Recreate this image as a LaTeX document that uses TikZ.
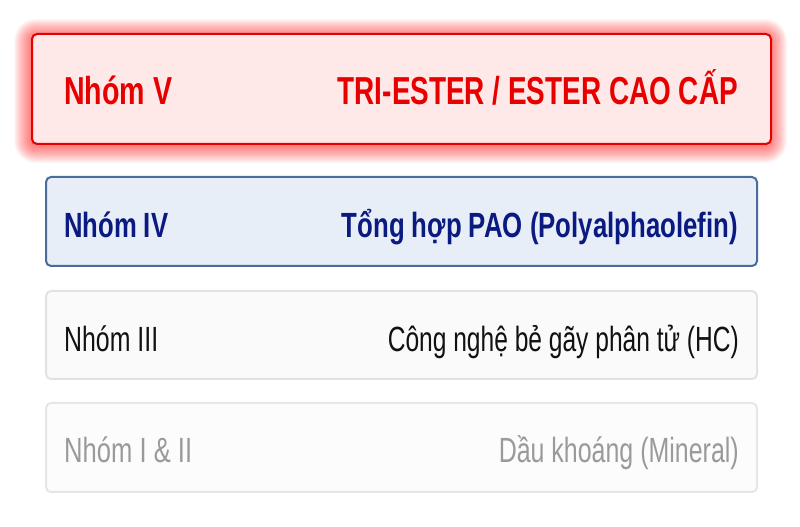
\documentclass[tikz,border=0pt]{standalone}
\usepackage{fontspec}
\usepackage{graphicx}
\setmainfont{Liberation Sans}
\definecolor{vred}{HTML}{E60000}
\definecolor{vfill}{HTML}{FFE8E8}
\definecolor{ivtext}{HTML}{0A1A80}
\definecolor{ivline}{HTML}{4A6C9B}
\definecolor{ivfill}{HTML}{E8EEF8}
\definecolor{iiitext}{HTML}{111111}
\definecolor{iiiline}{HTML}{E2E2E2}
\definecolor{iiifill}{HTML}{FAFAFA}
\definecolor{itext}{HTML}{9A9A9A}
\definecolor{iline}{HTML}{E6E6E6}
\definecolor{ifill}{HTML}{FCFCFC}
\newcommand\fitw[2]{\resizebox{#1}{\height}{#2}}
\tikzset{
  tierbox/.style={rectangle, rounded corners=5pt, line width=2pt, anchor=south west, inner sep=0pt},
  boxV/.style={tierbox, draw=vred, fill=vfill, minimum width=739pt, minimum height=110pt},
  boxIV/.style={tierbox, draw=ivline, fill=ivfill, minimum width=711pt, minimum height=89pt},
  boxIII/.style={tierbox, draw=iiiline, fill=iiifill, minimum width=711pt, minimum height=88pt},
  boxI/.style={tierbox, draw=iline, fill=ifill, minimum width=711pt, minimum height=89pt},
  lbl/.style={inner sep=0pt, anchor=base west},
  rlbl/.style={inner sep=0pt, anchor=base east}
}
\begin{document}
\begin{tikzpicture}[x=1pt,y=1pt]
\useasboundingbox (0,0) rectangle (800,527);
\fill[white] (0,0) rectangle (800,527);
% glow of top box
\foreach \i in {1,...,17}{
  \pgfmathsetmacro\rr{5+\i}
  \fill[red, opacity=0.035, rounded corners=\rr pt] (31-\i,382-\i-1) rectangle (770+\i,492+\i-1);
}
\node[boxV] (bV) at (31,382) {};
\node[boxIV] (bIV) at (45,260) {};
\node[boxIII] (bIII) at (45,147) {};
\node[boxI] (bI) at (45,34) {};
% labels
\node[lbl, text=vred] (lV) at (64,422) {\fitw{108pt}{\fontsize{39}{39}\selectfont\bfseries Nhóm V}};
\node[rlbl, text=vred] (rV) at (738,422) {\fitw{400pt}{\fontsize{39}{39}\selectfont\bfseries TRI-ESTER / ESTER CAO CẤP}};
\node[lbl, text=ivtext] (lIV) at (64,289) {\fitw{104pt}{\fontsize{35}{35}\selectfont\bfseries Nhóm IV}};
\node[rlbl, text=ivtext] (rIV) at (738,289) {\fitw{396pt}{\fontsize{35}{35}\selectfont\bfseries Tổng hợp PAO (Polyalphaolefin)}};
\node[lbl, text=iiitext] (lIII) at (64,175) {\fitw{94pt}{\fontsize{35}{35}\selectfont Nhóm III}};
\node[rlbl, text=iiitext] (rIII) at (739,175) {\fitw{351pt}{\fontsize{35}{35}\selectfont Công nghệ bẻ gãy phân tử (HC)}};
\node[lbl, text=itext] (lI) at (64,64) {\fitw{128pt}{\fontsize{35}{35}\selectfont Nhóm I \& II}};
\node[rlbl, text=itext] (rI) at (739,64) {\fitw{240pt}{\fontsize{35}{35}\selectfont Dầu khoáng (Mineral)}};
\end{tikzpicture}
\end{document}
